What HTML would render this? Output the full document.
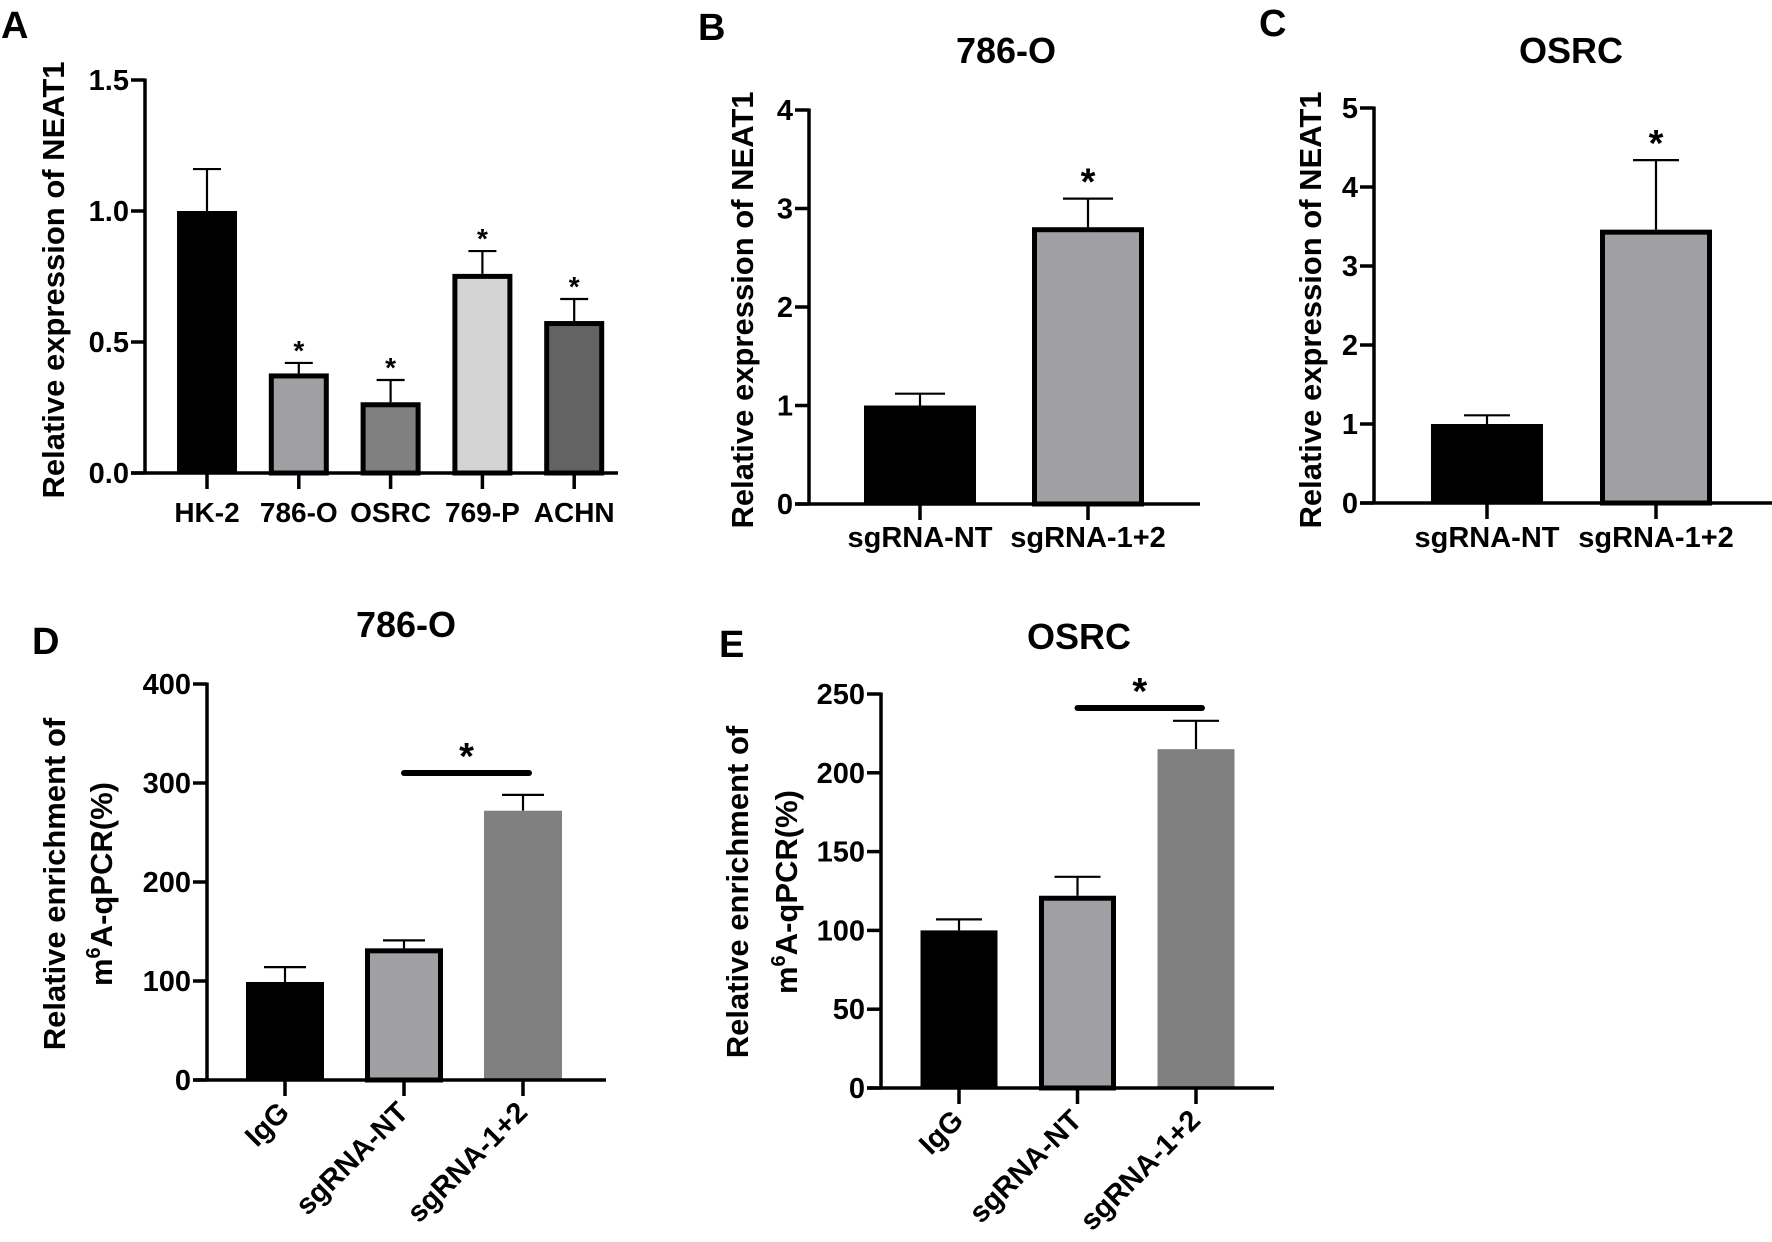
<!DOCTYPE html>
<html><head><meta charset="utf-8">
<style>
html,body{margin:0;padding:0;background:#fff;}
svg{display:block;font-family:"Liberation Sans",Arial,sans-serif;font-weight:bold;}
</style></head>
<body>
<svg id="fig" width="1772" height="1242" viewBox="0 0 1772 1242" xmlns="http://www.w3.org/2000/svg">
<rect width="1772" height="1242" fill="#fff"/>
</svg>
<script>
// Panel A
const aCategories = ["HK-2","786-O","OSRC","769-P","ACHN"];
const aValues = [1.0, 0.38, 0.27, 0.76, 0.58];
const aErrors = [1.16, 0.42, 0.355, 0.847, 0.664];
const aTicks = [0, 0.5, 1.0, 1.5];
const aTickLabels = ["0.0","0.5","1.0","1.5"];
const aStars = [false, true, true, true, true];
// Panel B
const bCategories = ["sgRNA-NT","sgRNA-1+2"];
const bValues = [1.0, 2.81];
const bErrors = [1.12, 3.10];
const bTicks = [0,1,2,3,4];
const bTickLabels = ["0","1","2","3","4"];
const bStars = [false, true];
// Panel C
const cCategories = ["sgRNA-NT","sgRNA-1+2"];
const cValues = [1.0, 3.46];
const cErrors = [1.11, 4.34];
const cTicks = [0,1,2,3,4,5];
const cTickLabels = ["0","1","2","3","4","5"];
const cStars = [false, true];
// Panel D
const dCategories = ["IgG","sgRNA-NT","sgRNA-1+2"];
const dValues = [99, 133, 272];
const dErrors = [114, 141, 288];
const dTicks = [0,100,200,300,400];
const dTickLabels = ["0","100","200","300","400"];
// Panel E
const eCategories = ["IgG","sgRNA-NT","sgRNA-1+2"];
const eValues = [100, 122, 215];
const eErrors = [107, 134, 233];
const eTicks = [0,50,100,150,200,250];
const eTickLabels = ["0","50","100","150","200","250"];

const svg = document.getElementById('fig');
const NS = 'http://www.w3.org/2000/svg';
function mk(tag, attrs, parent){
  const e = document.createElementNS(NS, tag);
  for (const k in attrs) e.setAttribute(k, attrs[k]);
  (parent||svg).appendChild(e);
  return e;
}
function txt(s, attrs, parent){ const t = mk('text', attrs, parent); t.textContent = s; return t; }

function panel(cfg){
  const g = mk('g', {});
  
  
  const yMax = cfg.ticks[cfg.ticks.length-1];
  const ys = v => cfg.y0 - (v / yMax) * (cfg.y0 - cfg.yTop);
  const xs = i => cfg.x0 + i * cfg.step;
  cfg.values.forEach((v, i) => {
    const cx = xs(i), top = ys(v), sw = cfg.borders[i] ? 5 : 0;
    const eb = mk('g', {}, g);
    
    
    mk('line', {x1:cx, x2:cx, y1:top, y2:ys(cfg.errors[i]), stroke:'#000','stroke-width':2.2}, eb);
    mk('line', {x1:cx-cfg.cap, x2:cx+cfg.cap, y1:ys(cfg.errors[i]), y2:ys(cfg.errors[i]), stroke:'#000','stroke-width':2.2}, eb);
    const r = mk('rect', {x:cx-cfg.bw/2+sw/2, y:top+sw/2, width:cfg.bw-sw, height:Math.max(0,cfg.y0-top-sw/2), fill:cfg.colors[i], stroke:sw?'#000':'none','stroke-width':sw}, g);
    
    
    if (cfg.stars && cfg.stars[i]) {
      const s = txt('*', {x:cx, y:ys(cfg.errors[i]) - cfg.starGap, 'text-anchor':'middle','font-size':cfg.starSize}, g);
      
      
    }
  });
  const ya = mk('line', {x1:cfg.axisX, x2:cfg.axisX, y1:cfg.yTop-1.5, y2:cfg.y0+1.5, stroke:'#000','stroke-width':3.5}, g);
  
  
  const xa = mk('line', {x1:cfg.axisX-14, x2:cfg.xEnd, y1:cfg.y0, y2:cfg.y0, stroke:'#000','stroke-width':3.5}, g);
  
  
  cfg.ticks.forEach((t, i) => {
    const y = ys(t);
    mk('line', {x1:cfg.axisX-14, x2:cfg.axisX, y1:y, y2:y, stroke:'#000','stroke-width':3.5}, g);
    const l = txt(cfg.tickLabels[i], {x:cfg.axisX-16, y:y+10, 'text-anchor':'end','font-size':29}, g);
    
    
  });
  cfg.cats.forEach((c, i) => {
    const cx = xs(i);
    mk('line', {x1:cx, x2:cx, y1:cfg.y0, y2:cfg.y0+16, stroke:'#000','stroke-width':3.5}, g);
    let l;
    if (cfg.rotate) {
      l = txt(c, {x:cx+6, y:cfg.y0+34, 'text-anchor':'end','font-size':29, transform:'rotate(-45 '+(cx+6)+' '+(cfg.y0+34)+')'}, g);
    } else {
      l = txt(c, {x:cx, y:cfg.y0+cfg.catDy, 'text-anchor':'middle','font-size':cfg.catSize}, g);
    }
    
    
  });
  cfg.ylab.forEach((s, k) => {
    const x = cfg.ylabX[k], y = cfg.ylabY;
    const l = txt('', {x:x, y:y, 'text-anchor':'middle','font-size':31, transform:'rotate(-90 '+x+' '+y+')'}, g);
    if (s === 'M6') {
      l.textContent = 'm';
      const sup = mk('tspan', {'font-size':20, dy:-12}, l); sup.textContent = '6';
      const rest = mk('tspan', {dy:12}, l); rest.textContent = 'A-qPCR(%)';
    } else l.textContent = s;
    
    
  });
  if (cfg.title) {
    const t = txt(cfg.title, {x:cfg.titleX, y:cfg.titleY, 'text-anchor':'middle','font-size':36}, g);
    
    
  }
  const L = txt(cfg.letter, {x:cfg.letterX, y:cfg.letterY, 'font-size':38}, g);
  
  
  if (cfg.sig) {
    const sb = mk('line', {x1:xs(cfg.sig[0]), x2:xs(cfg.sig[1])+6, y1:cfg.sigY, y2:cfg.sigY, stroke:'#000','stroke-width':6,'stroke-linecap':'round'}, g);
    
    
    const s = txt('*', {x:(xs(cfg.sig[0])+xs(cfg.sig[1]))/2+3, y:cfg.sigY-4, 'text-anchor':'middle','font-size':38}, g);
    
    
  }
}

panel({name:'panel-a', letter:'A', letterX:1, letterY:38, cats:aCategories, values:aValues, errors:aErrors, ticks:aTicks, tickLabels:aTickLabels, stars:aStars,
  colors:['#000','#a0a0a4','#808080','#d4d4d4','#636363'], borders:[0,1,1,1,1],
  axisX:145, yTop:80, y0:473, x0:207, step:91.8, bw:60, cap:14, xEnd:618, starGap:3, starSize:28,
  catDy:49, catSize:28, ylab:['Relative expression of NEAT1'], ylabX:[64], ylabY:280});
panel({name:'panel-b', letter:'B', letterX:698, letterY:40, title:'786-O', titleX:1006, titleY:63, cats:bCategories, values:bValues, errors:bErrors, ticks:bTicks, tickLabels:bTickLabels, stars:bStars,
  colors:['#000','#a0a0a4'], borders:[0,1],
  axisX:809, yTop:110, y0:504, x0:920, step:168, bw:112, cap:25, xEnd:1200, starGap:4, starSize:38,
  catDy:43, catSize:29, ylab:['Relative expression of NEAT1'], ylabX:[753], ylabY:310});
panel({name:'panel-c', letter:'C', letterX:1259, letterY:36, title:'OSRC', titleX:1571, titleY:63, cats:cCategories, values:cValues, errors:cErrors, ticks:cTicks, tickLabels:cTickLabels, stars:cStars,
  colors:['#000','#a0a0a4'], borders:[0,1],
  axisX:1374, yTop:108, y0:503, x0:1487, step:169, bw:112, cap:23, xEnd:1772, starGap:4, starSize:38,
  catDy:44, catSize:29, ylab:['Relative expression of NEAT1'], ylabX:[1321], ylabY:310});
panel({name:'panel-d', letter:'D', letterX:32, letterY:654, title:'786-O', titleX:406, titleY:637, cats:dCategories, values:dValues, errors:dErrors, ticks:dTicks, tickLabels:dTickLabels,
  colors:['#000','#a0a0a4','#808080'], borders:[0,1,0],
  axisX:207, yTop:684, y0:1080, x0:285, step:119, bw:78, cap:21, xEnd:606, rotate:true, sig:[1,2], sigY:773,
  ylab:['Relative enrichment of','M6'], ylabX:[65,112], ylabY:884});
panel({name:'panel-e', letter:'E', letterX:719, letterY:657, title:'OSRC', titleX:1079, titleY:649, cats:eCategories, values:eValues, errors:eErrors, ticks:eTicks, tickLabels:eTickLabels,
  colors:['#000','#a0a0a4','#808080'], borders:[0,1,0],
  axisX:881, yTop:694, y0:1088, x0:959, step:118.5, bw:77, cap:23, xEnd:1274, rotate:true, sig:[1,2], sigY:708,
  ylab:['Relative enrichment of','M6'], ylabX:[748,797], ylabY:892});
</script>
</body></html>
